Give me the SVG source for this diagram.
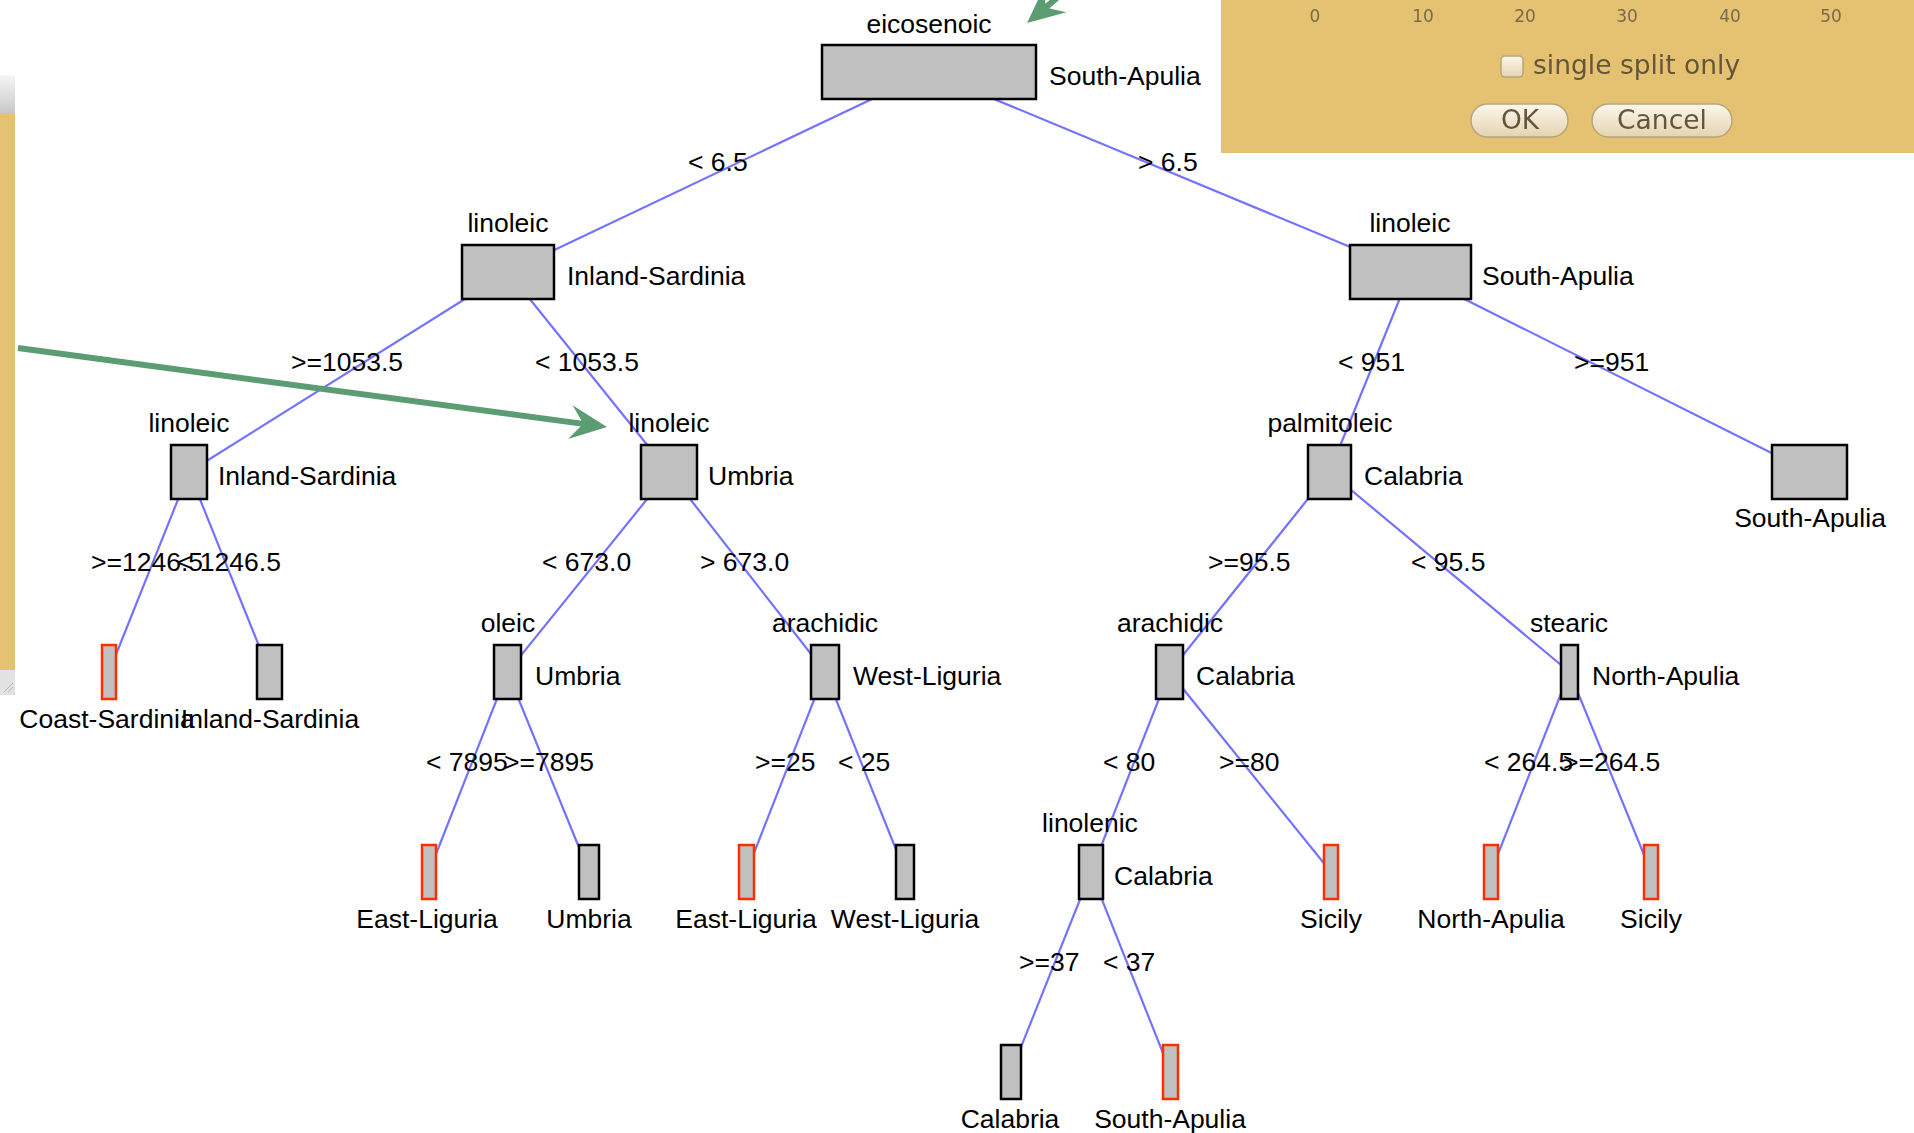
<svg xmlns="http://www.w3.org/2000/svg" width="1914" height="1133" viewBox="0 0 1914 1133">
<defs>
  <linearGradient id="btn" x1="0" y1="0" x2="0" y2="1">
    <stop offset="0" stop-color="#fdf8ec"/>
    <stop offset="1" stop-color="#e3d4b2"/>
  </linearGradient>
  <linearGradient id="bar" x1="0" y1="0" x2="0" y2="1">
    <stop offset="0" stop-color="#f6f6f6"/>
    <stop offset="1" stop-color="#c9c9c9"/>
  </linearGradient>
  <filter id="soft" x="-5%" y="-20%" width="110%" height="140%">
    <feGaussianBlur stdDeviation="0.6"/>
  </filter>
  <marker id="garrow" markerUnits="userSpaceOnUse" markerWidth="40" markerHeight="36" viewBox="0 0 40 36" refX="16" refY="18" orient="auto">
    <path d="M38 18 L1 1 L14 18 L1 35 Z" fill="#5c9c72"/>
  </marker>
</defs>
<style>
  .n{fill:#c0c0c0;stroke:#000;stroke-width:2.5}
  .r{fill:#c0c0c0;stroke:#ff2d00;stroke-width:2.5}
  text{font-family:"Liberation Sans",Arial,sans-serif;font-size:26.5px;fill:#000}
  .c{text-anchor:middle}
  .e line{stroke:#7373ff;stroke-width:2.2}
  .ui{font-family:"DejaVu Sans",sans-serif;fill:#65563a}
  .tick{font-size:17px;text-anchor:middle;fill:#7a6a4a}
  .btn{fill:url(#btn);stroke:#b9a57a;stroke-width:1.5}
  .g{stroke:#5c9c72;stroke-width:6;fill:none}
</style>
<rect width="1914" height="1133" fill="#ffffff"/>

<!-- left panel edge -->
<g id="left-panel">
  <rect x="0" y="75" width="15" height="595" fill="#e4c272"/>
  <rect x="0" y="75" width="15" height="38" fill="url(#bar)"/>
  <rect x="0" y="670" width="15" height="25" fill="#e2e2e2"/>
  <path d="M4 692 L13 683 M8 692 L13 687" stroke="#b5b5b5" stroke-width="1"/>
</g>

<!-- top-right dialog -->
<g id="dialog">
  <rect x="1221" y="0" width="693" height="153" fill="#e4c272"/>
  <g filter="url(#soft)">
    <text class="ui tick" x="1315" y="22">0</text>
    <text class="ui tick" x="1423" y="22">10</text>
    <text class="ui tick" x="1525" y="22">20</text>
    <text class="ui tick" x="1627" y="22">30</text>
    <text class="ui tick" x="1730" y="22">40</text>
    <text class="ui tick" x="1831" y="22">50</text>
    <rect x="1501" y="56" width="22" height="21" rx="4" class="btn"/>
    <text class="ui" x="1533" y="74" font-size="22">single split only</text>
    <rect x="1471" y="104" width="97" height="33" rx="16.5" class="btn"/>
    <text class="ui c" x="1520" y="129" font-size="22">OK</text>
    <rect x="1592" y="104" width="140" height="33" rx="16.5" class="btn"/>
    <text class="ui c" x="1662" y="129" font-size="22">Cancel</text>
  </g>
</g>

<!-- connectors -->
<g id="connectors" class="e">
  <line x1="929" y1="72" x2="508" y2="272"/>
  <line x1="929" y1="72" x2="1410.5" y2="272"/>
  <line x1="508" y1="272" x2="189" y2="472"/>
  <line x1="508" y1="272" x2="669" y2="472"/>
  <line x1="1410.5" y1="272" x2="1329.5" y2="472"/>
  <line x1="1410.5" y1="272" x2="1809.5" y2="472"/>
  <line x1="189" y1="472" x2="109" y2="672"/>
  <line x1="189" y1="472" x2="269.5" y2="672"/>
  <line x1="669" y1="472" x2="507.5" y2="672"/>
  <line x1="669" y1="472" x2="825" y2="672"/>
  <line x1="1329.5" y1="472" x2="1169.5" y2="672"/>
  <line x1="1329.5" y1="472" x2="1569.5" y2="672"/>
  <line x1="507.5" y1="672" x2="429" y2="872"/>
  <line x1="507.5" y1="672" x2="589" y2="872"/>
  <line x1="825" y1="672" x2="746.5" y2="872"/>
  <line x1="825" y1="672" x2="905" y2="872"/>
  <line x1="1169.5" y1="672" x2="1091" y2="872"/>
  <line x1="1169.5" y1="672" x2="1331" y2="872"/>
  <line x1="1569.5" y1="672" x2="1491" y2="872"/>
  <line x1="1569.5" y1="672" x2="1651" y2="872"/>
  <line x1="1091" y1="872" x2="1011" y2="1072"/>
  <line x1="1091" y1="872" x2="1170.5" y2="1072"/>
  <text x="688" y="171">&lt; 6.5</text>
  <text x="1138" y="171">&gt; 6.5</text>
  <text x="291" y="371">&gt;=1053.5</text>
  <text x="535" y="371">&lt; 1053.5</text>
  <text x="1338" y="371">&lt; 951</text>
  <text x="1574" y="371">&gt;=951</text>
  <text x="91" y="571">&gt;=1246.5</text>
  <text x="177" y="571">&lt; 1246.5</text>
  <text x="542" y="571">&lt; 673.0</text>
  <text x="700" y="571">&gt; 673.0</text>
  <text x="1208" y="571">&gt;=95.5</text>
  <text x="1411" y="571">&lt; 95.5</text>
  <text x="426" y="771">&lt; 7895</text>
  <text x="504" y="771">&gt;=7895</text>
  <text x="755" y="771">&gt;=25</text>
  <text x="838" y="771">&lt; 25</text>
  <text x="1103" y="771">&lt; 80</text>
  <text x="1219" y="771">&gt;=80</text>
  <text x="1484" y="771">&lt; 264.5</text>
  <text x="1563" y="771">&gt;=264.5</text>
  <text x="1019" y="971">&gt;=37</text>
  <text x="1103" y="971">&lt; 37</text>
</g>

<!-- nodes -->
<g id="node-root">
  <rect class="n" x="822" y="45" width="214" height="54"/>
  <text class="c" x="929" y="33">eicosenoic</text>
  <text x="1049" y="85">South-Apulia</text>
</g>
<g id="node-b">
  <rect class="n" x="462" y="245" width="92" height="54"/>
  <text class="c" x="508" y="232">linoleic</text>
  <text x="567" y="285">Inland-Sardinia</text>
</g>
<g id="node-c">
  <rect class="n" x="1350" y="245" width="121" height="54"/>
  <text class="c" x="1410" y="232">linoleic</text>
  <text x="1482" y="285">South-Apulia</text>
</g>
<g id="node-d">
  <rect class="n" x="171" y="445" width="36" height="54"/>
  <text class="c" x="189" y="432">linoleic</text>
  <text x="218" y="485">Inland-Sardinia</text>
</g>
<g id="node-e">
  <rect class="n" x="641" y="445" width="56" height="54"/>
  <text class="c" x="669" y="432">linoleic</text>
  <text x="708" y="485">Umbria</text>
</g>
<g id="node-f">
  <rect class="n" x="1308" y="445" width="43" height="54"/>
  <text class="c" x="1330" y="432">palmitoleic</text>
  <text x="1364" y="485">Calabria</text>
</g>
<g id="node-g">
  <rect class="n" x="1772" y="445" width="75" height="54"/>
  <text class="c" x="1810" y="527">South-Apulia</text>
</g>
<g id="node-h">
  <rect class="r" x="102" y="645" width="14" height="54"/>
  <text class="c" x="107" y="728">Coast-Sardinia</text>
</g>
<g id="node-i">
  <rect class="n" x="257" y="645" width="25" height="54"/>
  <text class="c" x="270" y="728">Inland-Sardinia</text>
</g>
<g id="node-j">
  <rect class="n" x="494" y="645" width="27" height="54"/>
  <text class="c" x="508" y="632">oleic</text>
  <text x="535" y="685">Umbria</text>
</g>
<g id="node-k">
  <rect class="n" x="811" y="645" width="28" height="54"/>
  <text class="c" x="825" y="632">arachidic</text>
  <text x="853" y="685">West-Liguria</text>
</g>
<g id="node-l">
  <rect class="n" x="1156" y="645" width="27" height="54"/>
  <text class="c" x="1170" y="632">arachidic</text>
  <text x="1196" y="685">Calabria</text>
</g>
<g id="node-m">
  <rect class="n" x="1561" y="645" width="17" height="54"/>
  <text class="c" x="1569" y="632">stearic</text>
  <text x="1592" y="685">North-Apulia</text>
</g>
<g id="node-n">
  <rect class="r" x="422" y="845" width="14" height="54"/>
  <text class="c" x="427" y="928">East-Liguria</text>
</g>
<g id="node-o">
  <rect class="n" x="579" y="845" width="20" height="54"/>
  <text class="c" x="589" y="928">Umbria</text>
</g>
<g id="node-p">
  <rect class="r" x="739" y="845" width="15" height="54"/>
  <text class="c" x="746" y="928">East-Liguria</text>
</g>
<g id="node-q">
  <rect class="n" x="896" y="845" width="18" height="54"/>
  <text class="c" x="905" y="928">West-Liguria</text>
</g>
<g id="node-r">
  <rect class="n" x="1079" y="845" width="24" height="54"/>
  <text class="c" x="1090" y="832">linolenic</text>
  <text x="1114" y="885">Calabria</text>
</g>
<g id="node-s">
  <rect class="r" x="1324" y="845" width="14" height="54"/>
  <text class="c" x="1331" y="928">Sicily</text>
</g>
<g id="node-t">
  <rect class="r" x="1484" y="845" width="14" height="54"/>
  <text class="c" x="1491" y="928">North-Apulia</text>
</g>
<g id="node-u">
  <rect class="r" x="1644" y="845" width="14" height="54"/>
  <text class="c" x="1651" y="928">Sicily</text>
</g>
<g id="node-v">
  <rect class="n" x="1001" y="1045" width="20" height="54"/>
  <text class="c" x="1010" y="1128">Calabria</text>
</g>
<g id="node-w">
  <rect class="r" x="1163" y="1045" width="15" height="54"/>
  <text class="c" x="1170" y="1128">South-Apulia</text>
</g>

<!-- green annotation arrows -->
<g id="annotations">
  <line class="g" x1="18" y1="348" x2="585.2" y2="424.1" marker-end="url(#garrow)"/>
  <line class="g" x1="1105" y1="-42.5" x2="1043.9" y2="8.9" marker-end="url(#garrow)"/>
</g>
</svg>
